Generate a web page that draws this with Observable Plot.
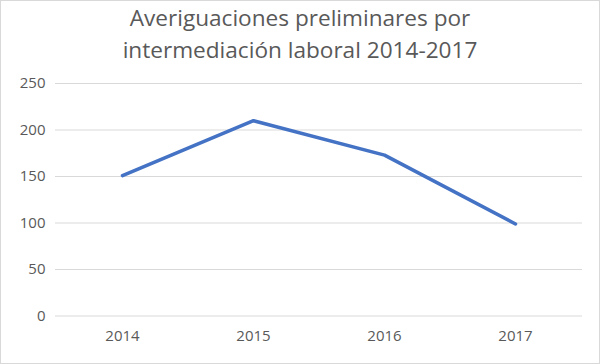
<!DOCTYPE html>
<html><head><meta charset="utf-8">
<script src="https://cdn.jsdelivr.net/npm/d3@7"></script>
<script src="https://cdn.jsdelivr.net/npm/@observablehq/plot@0.6"></script>
<style>
html,body{margin:0;padding:0;background:#fff;}
#wrap{position:relative;width:600px;height:364px;box-sizing:border-box;border:1px solid #d9d9d9;overflow:hidden;font-family:"Open Sans",sans-serif;}
#title{height:70px;text-align:center;color:#595959;font-size:22.6px;line-height:32px;padding-top:1px;box-sizing:border-box;}
#chart svg{display:block;}
</style></head><body>
<div id="wrap"><div id="title">Averiguaciones preliminares por<br>intermediación laboral 2014-2017</div><div id="chart"></div></div>
<script>
const years = ["2014","2015","2016","2017"];
const values = [151, 210, 173, 99];
const yTicks = [0,50,100,150,200,250];
const data = years.map((y,i)=>({year:y, value:values[i]}));
const chart = Plot.plot({
  width: 598, height: 292,
  marginTop: 12, marginBottom: 47.5, marginLeft: 54, marginRight: 17,
  style: {fontFamily: '"Open Sans", sans-serif', fontSize: "15px", color: "#595959", background: "#fff"},
  x: {type: "point", domain: years, padding: 0.5, label: null},
  y: {domain: [0,250], ticks: yTicks, label: null},
  marks: [
    Plot.ruleY(yTicks, {stroke: "#d9d9d9", strokeWidth: 1, strokeOpacity: 1}),
    Plot.axisY({ticks: yTicks, tickSize: 0, tickPadding: 10, label: null, fill:"#595959", fontSize: 15}),
    Plot.axisX({tickSize: 0, tickPadding: 14, label: null, fill:"#595959", fontSize: 15}),
    Plot.line(data, {x: "year", y: "value", stroke: "#4472C4", strokeWidth: 3.5, strokeLinejoin: "round", strokeLinecap: "round"})
  ]
});
document.getElementById("chart").appendChild(chart);
</script></body></html>
